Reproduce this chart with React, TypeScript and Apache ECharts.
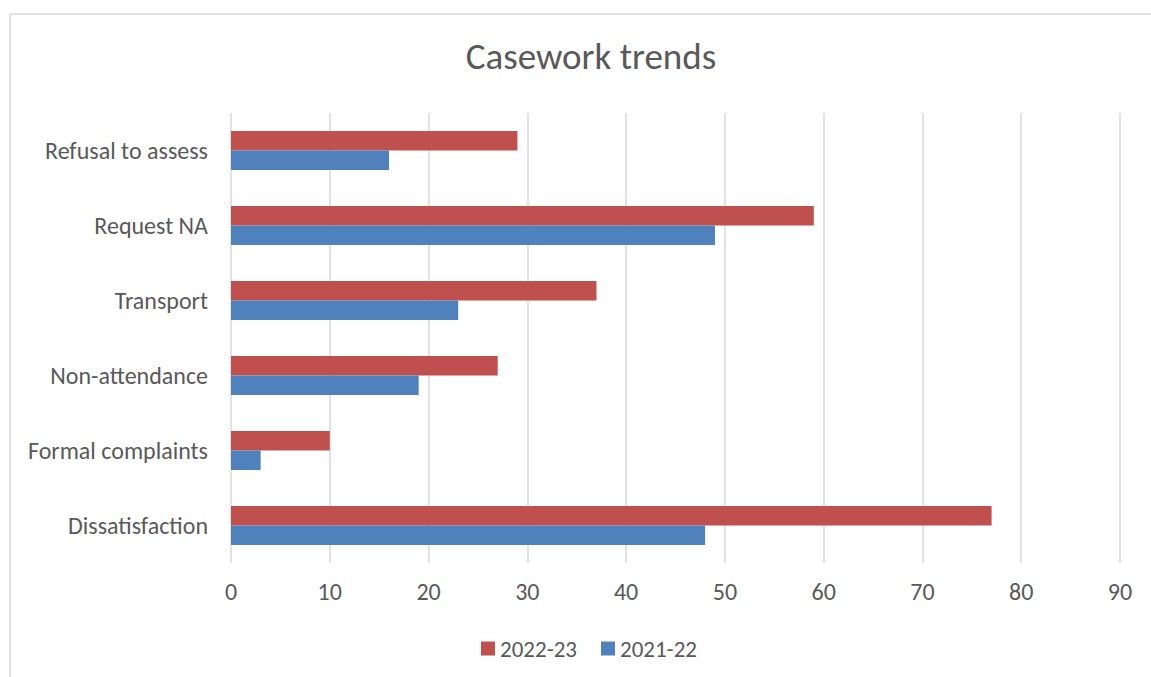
import React, { useEffect, useRef } from "react";
import * as echarts from "echarts";

const categories = [
  "Dissatisfaction",
  "Formal complaints",
  "Non-attendance",
  "Transport",
  "Request NA",
  "Refusal to assess",
];
const values2022_23 = [77, 10, 27, 37, 59, 29];
const values2021_22 = [48, 3, 19, 23, 49, 16];
const seriesNames = ["2022-23", "2021-22"];
const xMin = 0;
const xMax = 90;
const xInterval = 10;

const FONT = "Carlito, 'Open Sans', sans-serif";
const TEXT = "#595959";

export default function App() {
  const ref = useRef<HTMLDivElement>(null);
  useEffect(() => {
    if (!ref.current) return;
    const chart = echarts.init(ref.current, undefined, { renderer: "svg" });
    chart.setOption({
      animation: false,
      backgroundColor: "#ffffff",
      title: {
        text: "Casework trends",
        left: 586,
        textAlign: "center",
        top: 33,
        textStyle: { fontFamily: FONT, fontSize: 37, fontWeight: "normal", color: TEXT },
      },
      graphic: [
        { type: "line", shape: { x1: 10, y1: 14, x2: 1151, y2: 14 }, style: { stroke: "#d9d9d9", lineWidth: 1.5 } },
        { type: "line", shape: { x1: 10, y1: 14, x2: 10, y2: 677 }, style: { stroke: "#d9d9d9", lineWidth: 1.5 } },
      ],
      legend: {
        data: seriesNames,
        left: 476,
        top: 632,
        itemWidth: 14,
        itemHeight: 14,
        itemGap: 24,
        icon: "rect",
        textStyle: { fontFamily: FONT, fontSize: 23, color: TEXT },
      },
      grid: { left: 231, right: 31, top: 113, bottom: 114, containLabel: false },
      xAxis: {
        type: "value",
        min: xMin,
        max: xMax,
        interval: xInterval,
        axisLine: { show: false },
        axisTick: { show: false },
        axisLabel: { fontFamily: FONT, fontSize: 24, color: TEXT, margin: 16 },
        splitLine: { show: true, lineStyle: { color: "#d9d9d9", width: 1.5 } },
      },
      yAxis: {
        type: "category",
        data: categories,
        axisLine: { show: false },
        axisTick: { show: false },
        axisLabel: { fontFamily: FONT, fontSize: 24, color: TEXT, margin: 23, padding: [0, 0, 3, 0] },
      },
      series: [
        {
          name: seriesNames[0],
          type: "bar",
          data: values2022_23,
          barGap: "0%",
          barCategoryGap: "48%",
          itemStyle: { color: "#C0504D" },
        },
        {
          name: seriesNames[1],
          type: "bar",
          data: values2021_22,
          barGap: "0%",
          barCategoryGap: "48%",
          itemStyle: { color: "#4F81BD" },
        },
      ],
    });
    return () => chart.dispose();
  }, []);
  return <div ref={ref} style={{ width: 1151, height: 677, position: "absolute", left: 0, top: 0 }} />;
}
